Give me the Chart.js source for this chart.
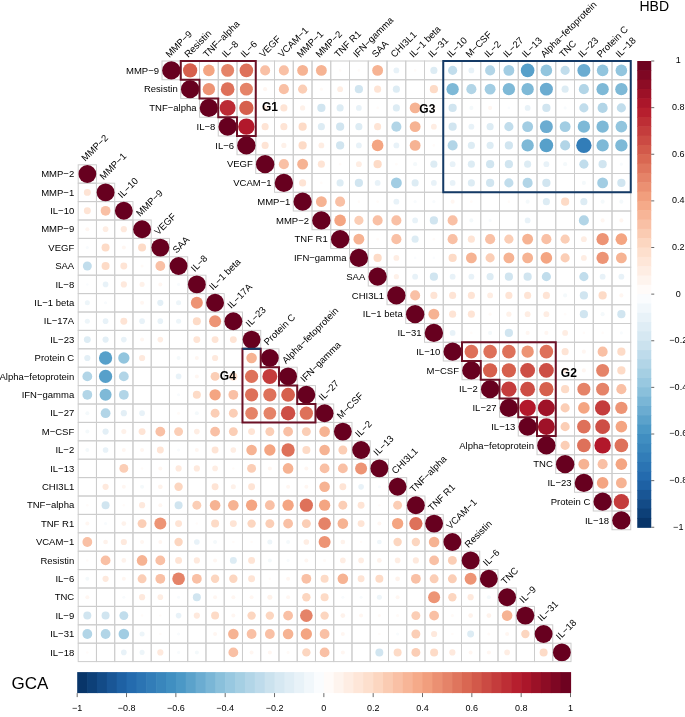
<!DOCTYPE html>
<html>
<head>
<meta charset="utf-8">
<script src="https://cdn.jsdelivr.net/npm/chart.js@4/dist/chart.umd.min.js"></script>
<style>
  body { margin: 0; background: #fff; }
  #wrap { position: relative; width: 685px; height: 717px; }
  #wrap canvas { position: absolute; left: 0; top: 0; }
</style>
</head>
<body>
<div id="wrap">
  <canvas id="gcaChart" width="685" height="717"></canvas>
  <canvas id="hbdChart" width="685" height="717"></canvas>
</div>
<script>
// HBD: upper triangle, row i holds the values for columns i+1 .. end
const hbdLabels = ['MMP-9', 'Resistin', 'TNF-alpha', 'IL-8', 'IL-6', 'VEGF', 'VCAM-1', 'MMP-1', 'MMP-2', 'TNF R1',
    'IFN-gamma', 'SAA', 'CHI3L1', 'IL-1 beta', 'IL-31', 'IL-10', 'M-CSF', 'IL-2', 'IL-27', 'IL-13',
    'Alpha-fetoprotein', 'TNC', 'IL-23', 'Protein C', 'IL-18'];
const hbdUpper = [
    [0.6, 0.4, 0.5, 0.55, 0.3, 0.3, 0.35, 0.35, 0.02, 0.02, 0.35, -0.1, 0.02, -0.15, -0.25, -0.1, -0.3, -0.35, -0.55, -0.4, -0.25, -0.5, -0.4, -0.4],
    [0.45, 0.55, 0.5, 0.05, 0.3, 0.25, 0.03, 0.1, -0.2, 0.15, -0.15, 0, 0.2, -0.45, -0.3, -0.35, -0.45, -0.45, -0.5, -0.15, -0.3, -0.45, -0.45],
    [0.75, 0.6, 0.1, 0.15, 0.08, -0.2, -0.15, -0.1, 0.02, -0.15, 0.35, 0.05, -0.2, -0.05, 0.05, -0.02, -0.1, -0.2, -0.03, -0.25, -0.3, -0.25],
    [0.8, 0.15, 0.15, 0.2, -0.15, -0.2, -0.15, 0.15, -0.3, 0.35, 0.1, -0.2, -0.1, -0.15, -0.25, -0.35, -0.5, -0.35, -0.45, -0.45, -0.4],
    [0.15, 0.08, 0.2, 0.1, -0.2, -0.1, 0.4, -0.1, 0.35, 0.02, -0.3, -0.15, -0.15, -0.2, -0.45, -0.55, -0.3, -0.7, -0.45, -0.45],
    [0.3, 0.35, 0.15, 0.02, 0.1, 0.2, 0.02, -0.05, -0.15, -0.1, -0.15, -0.2, -0.2, -0.15, -0.1, -0.05, -0.25, -0.2, -0.03],
    [0.15, 0.02, -0.15, -0.2, -0.1, -0.35, -0.15, -0.1, -0.1, -0.15, -0.2, -0.25, -0.3, -0.2, 0, -0.05, -0.35, -0.2],
    [0.35, 0.3, 0.02, 0.02, -0.1, -0.03, -0.03, 0.05, 0.02, 0, 0.02, -0.05, -0.15, 0.2, -0.15, -0.05, -0.05],
    [0.4, 0.25, 0.3, 0.3, -0.1, -0.2, 0.3, -0.05, -0.03, 0, -0.1, 0, 0, -0.3, 0.05, 0.05],
    [0.35, 0.02, 0.3, -0.15, 0.02, 0.3, 0.15, 0.3, 0.25, 0.35, 0.3, 0.25, 0.1, 0.45, 0.4],
    [0.2, 0.1, -0.02, -0.02, 0.2, 0.35, 0.25, 0.35, 0.35, 0.4, 0.25, 0.1, 0.45, 0.35],
    [0.08, -0.1, -0.2, -0.1, -0.1, -0.15, -0.2, -0.2, -0.25, 0, -0.25, -0.1, -0.1],
    [0.3, 0.15, 0.15, 0.15, 0.1, 0.15, 0.15, 0.15, -0.05, -0.2, 0.2, 0.05],
    [0.35, 0.15, 0.15, 0.03, 0.08, 0.1, 0.1, 0.02, -0.2, -0.05, -0.2],
    [-0.1, 0.02, -0.05, -0.2, 0.05, 0.05, 0.1, 0.02, 0.02, -0.03],
    [0.55, 0.55, 0.55, 0.45, 0.55, 0.15, 0.05, 0.3, 0.2],
    [0.6, 0.6, 0.65, 0.65, 0.1, 0.05, 0.5, 0.2],
    [0.7, 0.65, 0.6, 0.2, 0.5, 0.5, 0.3],
    [0.8, 0.85, 0.25, 0.4, 0.7, 0.45],
    [0.85, 0.25, 0.55, 0.65, 0.4],
    [0.25, 0.55, 0.8, 0.55],
    [0.35, 0.3, 0.4],
    [0.4, 0.35],
    [0.7],
    []
];

// GCA: lower triangle, row i holds the values for columns 0 .. i-1
const gcaLabels = ['MMP-2', 'MMP-1', 'IL-10', 'MMP-9', 'VEGF', 'SAA', 'IL-8', 'IL-1 beta', 'IL-17A', 'IL-23',
    'Protein C', 'Alpha-fetoprotein', 'IFN-gamma', 'IL-27', 'M-CSF', 'IL-2', 'IL-13', 'CHI3L1', 'TNF-alpha',
    'TNF R1', 'VCAM-1', 'Resistin', 'IL-6', 'TNC', 'IL-9', 'IL-31', 'IL-18'];
const gcaLower = [
    [],
    [0.15],
    [0.15, 0.3],
    [0.05, 0.1, 0.12],
    [-0.03, 0.2, 0.05, 0.2],
    [-0.25, 0.2, 0.15, 0.03, 0.3],
    [-0.02, -0.1, 0.12, 0.08, 0.05, -0.03],
    [-0.08, -0.03, 0, 0.05, -0.12, -0.08, 0.45],
    [-0.08, -0.1, 0.15, -0.1, -0.1, -0.08, 0.2, 0.45],
    [-0.15, -0.12, -0.1, 0.05, 0.1, 0, 0.15, 0.15, 0.15],
    [-0.12, -0.55, -0.4, 0.12, 0, -0.05, 0.05, 0.12, 0, 0.35],
    [-0.3, -0.55, -0.3, 0, 0, -0.1, 0.05, 0.25, 0.2, 0.55, 0.7],
    [-0.3, -0.45, -0.3, 0, 0, -0.03, 0.2, 0.4, 0.3, 0.55, 0.55, 0.6],
    [-0.05, -0.3, -0.12, -0.1, 0, 0.03, -0.05, 0.25, 0.25, 0.5, 0.5, 0.65, 0.55],
    [-0.05, -0.12, 0.08, 0.15, 0.3, 0.25, 0.1, 0.3, 0.25, 0.15, 0.25, 0.3, 0.25, 0.35],
    [-0.05, -0.1, 0.05, 0.05, 0.15, -0.03, 0.05, 0.15, 0.1, 0.35, 0.4, 0.55, 0.2, 0.35, 0.25],
    [0, 0, 0.25, 0.02, 0.05, 0.12, 0.12, 0.1, 0.02, 0.25, 0.05, 0.35, 0.05, 0.3, 0.3, 0.45],
    [0, 0.12, 0.05, -0.05, 0.07, 0.22, 0, 0.15, 0.08, 0.15, 0, 0.05, 0.05, 0.35, 0.15, -0.1, -0.03],
    [0.02, -0.2, 0.02, 0.12, 0.05, -0.2, 0.25, 0.35, 0.35, 0.4, 0.3, 0.4, 0.55, 0.4, 0.25, 0.15, 0.02, 0.25],
    [0.05, -0.03, 0.07, 0.25, 0.45, 0.15, 0.02, 0.2, 0.15, 0.22, 0.25, 0.3, 0.25, 0.5, 0.35, 0.15, 0.05, 0.4, 0.55],
    [0.3, 0.07, 0.12, 0.05, 0.05, 0.22, -0.1, -0.05, 0.02, 0.02, -0.08, -0.05, 0.1, 0.45, 0.07, 0.02, -0.07, 0.22, 0.22, 0.35],
    [0.02, 0.3, 0.07, 0.35, 0.3, 0.15, 0.12, 0.05, -0.15, 0.15, -0.05, -0.03, 0.05, 0.03, 0.1, 0.1, 0.07, 0.1, 0.12, 0.3, 0.25],
    [-0.05, 0.12, 0.05, 0.25, 0.3, 0.5, 0.3, 0.22, 0.22, 0.15, 0.02, 0.05, 0.3, 0.2, 0.35, 0.15, 0.2, 0.07, 0.3, 0.25, 0.25, 0.45],
    [0.05, 0, -0.03, 0.12, 0.1, -0.03, -0.2, 0.05, 0.05, 0.05, 0.08, 0.05, 0.22, 0.2, -0.03, -0.03, -0.08, 0.05, 0, 0.45, 0.22, 0.12, -0.05],
    [-0.2, -0.2, -0.25, 0.02, 0.02, -0.1, 0.12, 0.2, 0.05, 0.22, 0.22, 0.3, 0.5, 0.22, 0.07, 0.05, 0.03, 0.03, 0.25, 0.3, 0.03, 0.07, 0.07, 0.35],
    [-0.3, -0.3, -0.35, -0.08, 0.02, -0.03, 0, 0.05, 0.35, 0.3, 0.3, 0.35, 0.4, 0.3, 0.05, 0, 0.02, -0.03, 0.25, 0.12, 0.02, -0.15, 0.03, 0.05, 0.22],
    [0.02, 0, -0.1, -0.08, 0.12, -0.03, -0.05, 0, 0.3, 0.05, 0.05, 0.03, 0.22, 0.3, 0.05, 0, -0.2, 0.2, 0.25, 0.2, 0.12, 0.05, 0.05, 0.1, 0, 0.2]
];

const colorTicks = [-1, -0.8, -0.6, -0.4, -0.2, 0, 0.2, 0.4, 0.6, 0.8, 1];

// highlighted groups: first..last variable index
const hbdStairGroups = [{ name: 'G1', first: 0, last: 4 }, { name: 'G2', first: 15, last: 20 }];
const hbdRectGroups = [{ name: 'G3', rows: [0, 6], cols: [15, 24] }];
const gcaStairGroups = [{ name: 'G4', first: 9, last: 13 }];

Chart.defaults.font.family = '"Liberation Sans", Arial, Helvetica, sans-serif';

const rdbu = ['#053061', '#2166AC', '#4393C3', '#92C5DE', '#D1E5F0', '#FFFFFF',
    '#FDDBC7', '#F4A582', '#D6604D', '#B2182B', '#67001F'];
const MAROON = '#6B1026';
const NAVY = '#143A66';
const GRID = '#CDCDCD';
const FONT = '"Liberation Sans", Arial, Helvetica, sans-serif';

function hexRgb(h) {
    return [parseInt(h.slice(1, 3), 16), parseInt(h.slice(3, 5), 16), parseInt(h.slice(5, 7), 16)];
}
function corrColor(v) {
    const t = (Math.max(-1, Math.min(1, v)) + 1) / 2 * 10;
    const i = Math.min(9, Math.floor(t));
    const f = t - i;
    const a = hexRgb(rdbu[i]), b = hexRgb(rdbu[i + 1]);
    const c = a.map((x, k) => Math.round(x + (b[k] - x) * f));
    return 'rgb(' + c.join(',') + ')';
}
const txt = s => s.replace(/-/g, '\u2212');
const tickTxt = v => txt(String(v));

function buildPoints(labels, rows, upper) {
    const pts = [];
    labels.forEach((_, i) => {
        pts.push({ x: i, y: i, v: 1 });
        (rows[i] || []).forEach((v, k) => {
            pts.push({ x: upper ? i + 1 + k : k, y: i, v: v });
        });
    });
    return pts;
}

function geom(chart) {
    const xs = chart.scales.x, ys = chart.scales.y;
    return {
        L: c => xs.getPixelForValue(c - 0.5),
        R: c => xs.getPixelForValue(c + 0.5),
        T: r => ys.getPixelForValue(r - 0.5),
        B: r => ys.getPixelForValue(r + 0.5),
        cx: c => xs.getPixelForValue(c),
        cy: r => ys.getPixelForValue(r)
    };
}

function rotatedText(ctx, s, x, y) {
    ctx.save();
    ctx.translate(x, y);
    ctx.rotate(-Math.PI / 4);
    ctx.textAlign = 'left';
    ctx.textBaseline = 'alphabetic';
    ctx.fillText(txt(s), 0, 0);
    ctx.restore();
}

function polyline(ctx, pts, color) {
    ctx.save();
    ctx.strokeStyle = color;
    ctx.lineWidth = 2;
    ctx.lineJoin = 'miter';
    ctx.beginPath();
    pts.forEach((p, i) => i ? ctx.lineTo(p[0], p[1]) : ctx.moveTo(p[0], p[1]));
    ctx.closePath();
    ctx.stroke();
    ctx.restore();
}

function groupLabel(ctx, s, x, y) {
    ctx.save();
    ctx.font = 'bold 12px ' + FONT;
    ctx.fillStyle = '#000';
    ctx.textAlign = 'center';
    ctx.textBaseline = 'middle';
    ctx.fillText(s, x, y);
    ctx.restore();
}

const gridPlugin = {
    id: 'corrGrid',
    beforeDatasetsDraw(chart, args, opts) {
        const g = geom(chart), ctx = chart.ctx, n = opts.labels.length;
        ctx.save();
        ctx.strokeStyle = GRID;
        ctx.lineWidth = 1;
        for (let r = 0; r < n; r++) {
            for (let c = 0; c < n; c++) {
                if (opts.upper ? c < r : c > r) continue;
                ctx.strokeRect(g.L(c), g.T(r), g.R(c) - g.L(c), g.B(r) - g.T(r));
            }
        }
        ctx.restore();
    },
    afterDatasetsDraw(chart, args, opts) {
        const g = geom(chart), ctx = chart.ctx, ca = chart.chartArea;
        ctx.save();
        ctx.fillStyle = '#000';
        ctx.font = '9.5px ' + FONT;
        opts.labels.forEach((lab, i) => {
            if (opts.upper) {
                rotatedText(ctx, lab, g.cx(i) - 2, ca.top - 3);
                ctx.textAlign = 'right';
                ctx.textBaseline = 'middle';
                ctx.fillText(txt(lab), g.L(i) - 3, g.cy(i) + 0.5);
            } else {
                ctx.textAlign = 'right';
                ctx.textBaseline = 'middle';
                ctx.fillText(txt(lab), ca.left - 4, g.cy(i) + 0.5);
                rotatedText(ctx, lab, g.cx(i) - 2, g.T(i) - 3);
            }
        });
        ctx.restore();

        // staircase boxes
        opts.stairs.forEach(s => {
            const a = s.first, b = s.last, pts = [];
            if (opts.upper) {
                pts.push([g.L(a + 1), g.T(a)], [g.R(b), g.T(a)], [g.R(b), g.B(b - 1)]);
                for (let r = b - 1; r >= a; r--) {
                    pts.push([g.L(r + 1), g.B(r)], [g.L(r + 1), g.T(r)]);
                }
            } else {
                pts.push([g.L(a), g.T(a + 1)]);
                for (let r = a + 1; r <= b; r++) {
                    pts.push([g.R(r - 1), g.T(r)], [g.R(r - 1), g.B(r)]);
                }
                pts.push([g.L(a), g.B(b)]);
            }
            polyline(ctx, pts, MAROON);
            if (!opts.upper) {
                ctx.save();
                ctx.strokeStyle = NAVY;
                ctx.lineWidth = 2;
                ctx.beginPath();
                ctx.moveTo(g.L(a), g.T(a + 1));
                ctx.lineTo(g.R(a), g.T(a + 1));
                ctx.stroke();
                ctx.restore();
            }
        });
        opts.rects.forEach(s => {
            const x0 = g.L(s.cols[0]), x1 = g.R(s.cols[1]), y0 = g.T(s.rows[0]), y1 = g.B(s.rows[1]);
            polyline(ctx, [[x0, y0], [x1, y0], [x1, y1], [x0, y1]], NAVY);
        });
        opts.tags.forEach(t => groupLabel(ctx, t.name, g.cx(t.x), g.cy(t.y)));

        drawColorbar(ctx, ca, opts);
    }
};

function drawColorbar(ctx, ca, opts) {
    const steps = 50;
    ctx.save();
    ctx.fillStyle = '#000';
    ctx.font = '9px ' + FONT;
    if (opts.upper) {
        const x0 = ca.right + 6.5, w = 14, y0 = ca.top, y1 = ca.bottom - 2.5;
        const hs = (y1 - y0) / steps;
        for (let k = 0; k < steps; k++) {
            ctx.fillStyle = corrColor(1 - (k + 0.5) * 2 / steps);
            ctx.fillRect(x0, y0 + k * hs, w, hs + 0.6);
        }
        ctx.strokeStyle = '#444';
        ctx.lineWidth = 0.8;
        ctx.fillStyle = '#000';
        ctx.textAlign = 'center';
        ctx.textBaseline = 'middle';
        colorTicks.forEach(v => {
            const y = y0 + (1 - v) / 2 * (y1 - y0);
            ctx.beginPath();
            ctx.moveTo(x0 + w, y);
            ctx.lineTo(x0 + w + 3, y);
            ctx.stroke();
            ctx.fillText(tickTxt(v), x0 + w + 27, y);
        });
        ctx.font = '14px ' + FONT;
        ctx.fillText(opts.title, x0 + 17, ca.top - 53.5);
    } else {
        const x0 = ca.left - 1, x1 = ca.right - 0.5, y0 = ca.bottom + 10.5, h = 21;
        const ws = (x1 - x0) / steps;
        for (let k = 0; k < steps; k++) {
            ctx.fillStyle = corrColor(-1 + (k + 0.5) * 2 / steps);
            ctx.fillRect(x0 + k * ws, y0, ws + 0.6, h);
        }
        ctx.strokeStyle = '#444';
        ctx.lineWidth = 0.8;
        ctx.fillStyle = '#000';
        ctx.textAlign = 'center';
        ctx.textBaseline = 'middle';
        colorTicks.forEach(v => {
            const x = x0 + (v + 1) / 2 * (x1 - x0);
            ctx.beginPath();
            ctx.moveTo(x, y0 + h);
            ctx.lineTo(x, y0 + h + 4);
            ctx.stroke();
            ctx.fillText(tickTxt(v), x, y0 + h + 15);
        });
        ctx.font = '17px ' + FONT;
        ctx.fillText(opts.title, 30, y0 + 12);
    }
    ctx.restore();
}

function makeMatrix(id, labels, rows, upper, padding, extra) {
    const n = labels.length;
    return new Chart(document.getElementById(id), {
        type: 'scatter',
        data: {
            datasets: [{
                data: buildPoints(labels, rows, upper),
                pointRadius: ctx => {
                    if (!ctx.raw) return 0;
                    const xs = ctx.chart.scales.x;
                    const cell = Math.abs(xs.getPixelForValue(1) - xs.getPixelForValue(0));
                    return 0.49 * cell * Math.sqrt(Math.abs(ctx.raw.v));
                },
                pointBackgroundColor: ctx => ctx.raw ? corrColor(ctx.raw.v) : '#fff',
                pointBorderWidth: 0,
                pointHoverRadius: 0
            }]
        },
        options: {
            responsive: false,
            animation: false,
            events: [],
            layout: { padding: padding },
            scales: {
                x: { type: 'linear', min: -0.5, max: n - 0.5, display: false },
                y: { type: 'linear', min: -0.5, max: n - 0.5, reverse: true, display: false }
            },
            plugins: {
                legend: { display: false },
                tooltip: { enabled: false },
                corrGrid: Object.assign({ labels: labels, upper: upper }, extra)
            }
        },
        plugins: [gridPlugin]
    });
}

makeMatrix('gcaChart', gcaLabels, gcaLower, false,
    { left: 78.2, top: 164.8, right: 114, bottom: 55.4 },
    { stairs: gcaStairGroups, rects: [], tags: [{ name: 'G4', x: 7.7, y: 11 }], title: 'GCA' });

makeMatrix('hbdChart', hbdLabels, hbdUpper, true,
    { left: 162, top: 61, right: 54.25, bottom: 187.25 },
    { stairs: hbdStairGroups, rects: hbdRectGroups,
      tags: [{ name: 'G1', x: 5.26, y: 2 }, { name: 'G2', x: 21.2, y: 16.15 }, { name: 'G3', x: 13.65, y: 2.1 }],
      title: 'HBD' });
</script>
</body>
</html>
